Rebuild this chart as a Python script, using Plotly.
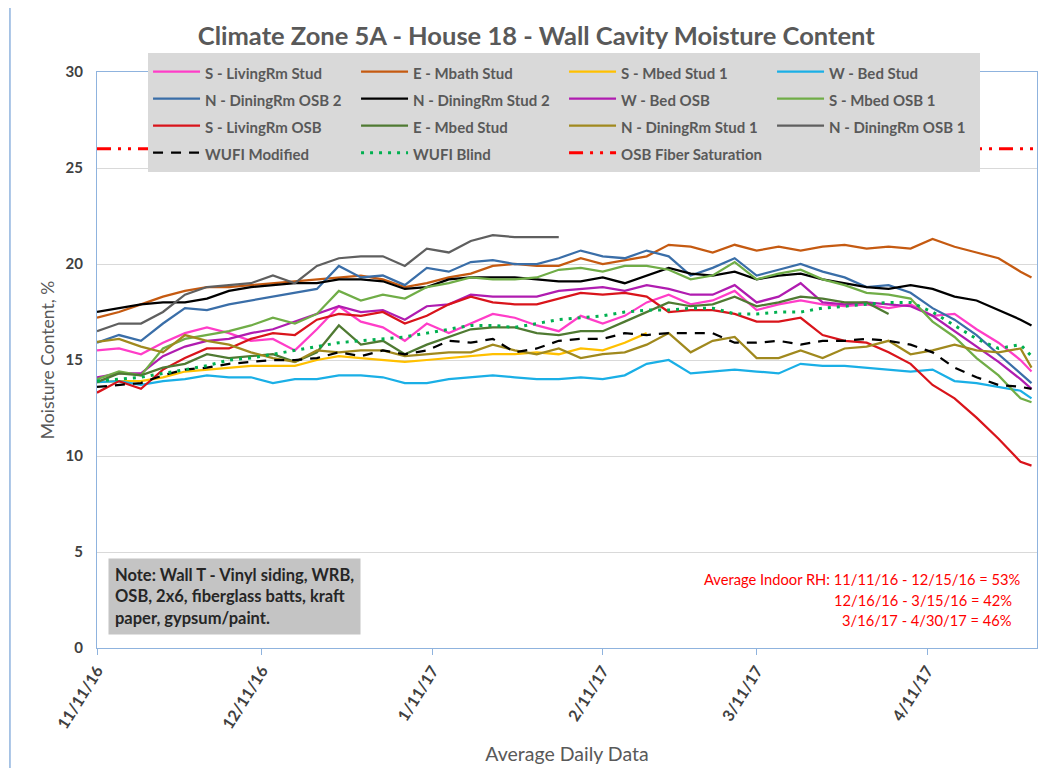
# Climate Zone 5A - House 18 - Wall Cavity Moisture Content

import pandas as pd
import plotly.graph_objects as go

# Sample dates (every 4 days from 11/11/16, plus the last day 4/30/17)
dates = list(pd.date_range("2016-11-11", periods=43, freq="4D")) + [pd.Timestamp("2017-04-30")]

tick_dates = ["2016-11-11", "2016-12-11", "2017-01-11", "2017-02-11", "2017-03-11", "2017-04-11"]
tick_text = ["11/11/16", "12/11/16", "1/11/17", "2/11/17", "3/11/17", "4/11/17"]

# Moisture content, %
s_livingrm_stud = [15.5, 15.6, 15.3, 15.9, 16.4, 16.7, 16.4, 16.0, 16.1, 15.5, 16.6, 17.8, 17.0, 16.7,
                   16.0, 16.9, 16.4, 16.9, 17.4, 17.2, 16.8, 16.5, 17.3, 16.9, 17.3, 18.0, 18.4, 17.9,
                   18.1, 18.6, 17.6, 17.9, 18.1, 17.9, 17.8, 17.9, 17.7, 17.9, 17.3, 17.4, 16.6, 15.9,
                   15.0, 14.4]
e_mbath_stud = [17.2, 17.5, 17.9, 18.3, 18.6, 18.8, 18.8, 18.9, 19.0, 19.1, 19.2, 19.3, 19.4, 19.2,
                18.8, 19.0, 19.3, 19.5, 19.9, 20.0, 19.9, 19.9, 20.3, 20.0, 20.2, 20.4, 21.0, 20.9,
                20.6, 21.0, 20.7, 20.9, 20.7, 20.9, 21.0, 20.8, 20.9, 20.8, 21.3, 20.9, 20.6, 20.3,
                19.6, 19.3]
s_mbed_stud_1 = [13.85, 13.9, 13.9, 14.1, 14.4, 14.5, 14.6, 14.7, 14.7, 14.7, 15.0, 15.2, 15.1, 15.0,
                 14.9, 15.0, 15.1, 15.2, 15.3, 15.3, 15.4, 15.3, 15.6, 15.5, 15.9, 16.4] + [None] * 18
w_bed_stud = [13.85, 13.9, 13.7, 13.9, 14.0, 14.2, 14.1, 14.1, 13.8, 14.0, 14.0, 14.2, 14.2, 14.1,
              13.8, 13.8, 14.0, 14.1, 14.2, 14.1, 14.0, 14.0, 14.1, 14.0, 14.2, 14.8, 15.0, 14.3,
              14.4, 14.5, 14.4, 14.3, 14.8, 14.7, 14.7, 14.6, 14.5, 14.4, 14.5, 13.9, 13.8, 13.6,
              13.4, 13.0]
n_diningrm_osb_2 = [15.9, 16.3, 16.0, 16.9, 17.7, 17.6, 17.9, 18.1, 18.3, 18.5, 18.7, 19.9, 19.3, 19.4,
                    18.9, 19.8, 19.6, 20.1, 20.2, 20.0, 20.0, 20.3, 20.7, 20.4, 20.3, 20.7, 20.4, 19.4,
                    19.8, 20.3, 19.4, 19.7, 20.0, 19.6, 19.3, 18.8, 18.9, 18.5, 17.7, 17.1, 16.3, 15.3,
                    14.3, 13.8]
n_diningrm_stud_2 = [17.5, 17.7, 17.9, 18.0, 18.0, 18.2, 18.6, 18.8, 18.9, 19.0, 19.0, 19.2, 19.2, 19.1,
                     18.7, 18.8, 19.2, 19.3, 19.3, 19.3, 19.2, 19.1, 19.1, 19.3, 19.0, 19.4, 19.8, 19.5,
                     19.4, 19.6, 19.2, 19.4, 19.5, 19.2, 19.0, 18.8, 18.7, 18.9, 18.7, 18.3, 18.1, 17.6,
                     17.1, 16.8]
w_bed_osb = [14.1, 14.3, 14.3, 15.2, 15.7, 16.0, 16.1, 16.4, 16.6, 17.0, 17.4, 17.8, 17.5, 17.6,
             17.1, 17.8, 17.9, 18.4, 18.3, 18.3, 18.3, 18.6, 18.7, 18.8, 18.6, 18.9, 18.7, 18.4,
             18.4, 18.9, 18.0, 18.3, 19.0, 18.0, 17.9, 18.0, 17.9, 17.8, 17.3, 16.5, 15.7, 14.9,
             14.0, 13.5]
s_mbed_osb_1 = [14.0, 14.4, 14.2, 15.6, 16.1, 16.3, 16.5, 16.8, 17.2, 16.9, 17.4, 18.6, 18.1, 18.4,
                18.2, 18.8, 19.0, 19.3, 19.2, 19.2, 19.3, 19.7, 19.8, 19.6, 19.9, 19.9, 19.7, 19.2,
                19.4, 20.1, 19.2, 19.5, 19.7, 19.2, 18.9, 18.5, 18.4, 18.2, 17.0, 16.2, 15.1, 14.2,
                13.0, 12.8]
s_livingrm_osb = [13.3, 13.9, 13.5, 14.5, 15.1, 15.6, 15.6, 16.1, 16.4, 16.3, 17.1, 17.4, 17.3, 17.5,
                  16.9, 17.3, 17.9, 18.3, 18.0, 17.9, 17.9, 18.2, 18.5, 18.4, 18.5, 18.3, 17.5, 17.6,
                  17.6, 17.4, 17.0, 17.0, 17.2, 16.3, 16.0, 15.9, 15.4, 14.8, 13.7, 13.0, 12.0, 10.9,
                  9.7, 9.5]
e_mbed_stud = [13.85, 14.3, 14.2, 14.6, 14.8, 15.3, 15.1, 15.2, 15.3, 14.9, 15.4, 16.8, 15.8, 16.0,
               15.3, 15.8, 16.2, 16.6, 16.7, 16.7, 16.4, 16.3, 16.5, 16.5, 17.0, 17.5, 18.0, 17.8,
               17.9, 18.3, 17.8, 18.0, 18.3, 18.2, 18.0, 18.0, 17.4] + [None] * 7
n_diningrm_stud_1 = [15.95, 16.1, 15.7, 15.4, 16.3, 16.0, 15.8, 15.4, 15.1, 14.9, 15.5, 15.4, 15.5, 15.5,
                     15.2, 15.3, 15.4, 15.4, 15.8, 15.5, 15.3, 15.6, 15.1, 15.3, 15.4, 15.8, 16.4, 15.4,
                     16.0, 16.2, 15.1, 15.1, 15.5, 15.1, 15.6, 15.7, 16.0, 15.3, 15.5, 15.8, 15.5, 15.4,
                     15.6, 14.6]
n_diningrm_osb_1 = [16.5, 16.9, 16.9, 17.5, 18.4, 18.8, 18.9, 19.0, 19.4, 19.0, 19.9, 20.3, 20.4, 20.4,
                    19.9, 20.8, 20.6, 21.2, 21.5, 21.4, 21.4, 21.4] + [None] * 22
wufi_modified = [13.6, 13.7, 13.8, 14.2, 14.5, 14.6, 14.8, 14.9, 15.0, 15.0, 15.1, 15.4, 15.2, 15.5,
                 15.3, 15.5, 16.0, 15.9, 16.1, 15.4, 15.6, 16.0, 16.1, 16.1, 16.4, 16.3, 16.4, 16.4,
                 16.4, 15.9, 15.9, 16.0, 15.8, 16.0, 16.0, 16.1, 16.0, 15.8, 15.4, 14.6, 14.1, 13.7,
                 13.6, 13.5]
wufi_blind = [13.9, 14.0, 14.1, 14.3, 14.5, 14.7, 15.0, 15.1, 15.3, 15.5, 15.7, 15.9, 16.0, 16.1,
              16.2, 16.4, 16.6, 16.8, 16.8, 16.7, 16.9, 17.1, 17.2, 17.3, 17.5, 17.6, 17.6, 17.7,
              17.7, 17.4, 17.4, 17.5, 17.5, 17.7, 17.8, 17.9, 18.0, 18.0, 17.5, 16.8, 16.1, 15.6,
              15.8, 15.2]
osb_fiber_saturation = 26
fiber_dates = ["2016-11-11", "2017-05-01"]

series = [
    ("S - LivingRm Stud", s_livingrm_stud, "#FF3DC8"),
    ("E - Mbath Stud", e_mbath_stud, "#C55A11"),
    ("S - Mbed Stud 1", s_mbed_stud_1, "#FFC000"),
    ("W - Bed Stud", w_bed_stud, "#1AAFE6"),
    ("N - DiningRm OSB 2", n_diningrm_osb_2, "#3A6EA8"),
    ("N - DiningRm Stud 2", n_diningrm_stud_2, "#000000"),
    ("W - Bed OSB", w_bed_osb, "#B01CB0"),
    ("S - Mbed OSB 1", s_mbed_osb_1, "#70AD47"),
    ("S - LivingRm OSB", s_livingrm_osb, "#D9141B"),
    ("E - Mbed Stud", e_mbed_stud, "#4F7A32"),
    ("N - DiningRm Stud 1", n_diningrm_stud_1, "#A0891E"),
    ("N - DiningRm OSB 1", n_diningrm_osb_1, "#5F5F5F"),
]


def legend_name(name):
    # smaller text inside a taller legend row
    return "<span style='font-size:15px'>" + name + "</span>"


fig = go.Figure()
for name, values, color in series:
    fig.add_trace(go.Scatter(x=dates, y=values, name=legend_name(name), mode="lines",
                             line=dict(color=color, width=2.25)))

fig.add_trace(go.Scatter(x=dates, y=wufi_modified, name=legend_name("WUFI Modified"), mode="lines",
                         line=dict(color="#000000", width=2.25, dash="10px,8px")))
fig.add_trace(go.Scatter(x=dates, y=wufi_blind, name=legend_name("WUFI Blind"), mode="lines",
                         line=dict(color="#00B050", width=3, dash="3px,6px")))
fig.add_trace(go.Scatter(x=fiber_dates, y=[osb_fiber_saturation] * 2,
                         name=legend_name("OSB Fiber Saturation"), mode="lines",
                         line=dict(color="#FF0000", width=3, dash="14px,7px,3px,7px,3px,7px")))

font_family = "Lato, Open Sans, sans-serif"
axis_line = "#8FB3DE"

fig.update_layout(
    width=1042,
    height=760,
    margin=dict(l=89, r=13, t=64, b=120),
    paper_bgcolor="white",
    plot_bgcolor="white",
    font=dict(family=font_family, color="#595959"),
    title=dict(text="<b>Climate Zone 5A - House 18 - Wall Cavity Moisture Content</b>",
               x=0.507, xanchor="center", y=0.963, yanchor="middle",
               font=dict(size=25.5, color="#595959")),
    xaxis=dict(type="date", range=["2016-11-11", "2017-05-01"], automargin=False,
               tickvals=tick_dates, ticktext=tick_text, tickangle=-58,
               tickfont=dict(size=16, color="#404040", weight="bold"),
               ticks="outside", ticklen=6, tickcolor=axis_line,
               showgrid=False, showline=True, mirror=True, linecolor=axis_line, linewidth=1,
               title=dict(text="Average Daily Data", font=dict(size=19.5, color="#595959"), standoff=16)),
    yaxis=dict(range=[0, 30], dtick=5, automargin=False,
               tickfont=dict(size=15, color="#404040", weight="bold"),
               ticklabelstandoff=10,
               gridcolor="#D9D9D9", zeroline=False,
               showline=True, mirror=True, linecolor=axis_line, linewidth=1,
               title=dict(text="Moisture Content, %", font=dict(size=17.5, color="#595959"), standoff=6)),
    legend=dict(orientation="h", x=0.0543, xanchor="left", y=1.033, yanchor="top",
                bgcolor="#D9D9D9", itemwidth=47, entrywidth=146, entrywidthmode="pixels",
                font=dict(size=18.5, color="#595959", weight="bold"), traceorder="normal"),
    showlegend=True,
)

# Note box
fig.add_annotation(xref="paper", yref="paper", x=0.0117, y=0.0226, xanchor="left", yanchor="bottom",
                   text="<b>Note: Wall T - Vinyl siding, WRB,<br>OSB, 2x6, fiberglass batts, kraft<br>paper, gypsum/paint.</b>",
                   align="left", showarrow=False, bgcolor="#C4C4C4", borderpad=6,
                   font=dict(size=16.5, color="#262626"))

# Indoor RH notes
rh_lines = ["Average Indoor RH: 11/11/16 - 12/15/16 = 53%",
            "12/16/16 - 3/15/16 = 42%",
            "3/16/17 - 4/30/17 = 46%"]
rh_x = [0.985, 0.976, 0.976]
rh_y = [0.119, 0.084, 0.049]
for txt, xx, yy in zip(rh_lines, rh_x, rh_y):
    fig.add_annotation(xref="paper", yref="paper", x=xx, y=yy, xanchor="right", yanchor="middle",
                       text=txt, showarrow=False, font=dict(size=14.7, color="#FF0000"))

# Outer chart border on the left
fig.add_shape(type="line", xref="paper", yref="paper", x0=-0.0926, x1=-0.0926, y0=-0.21, y1=1.13,
              line=dict(color=axis_line, width=1.5))

fig.write_html("out.html")
